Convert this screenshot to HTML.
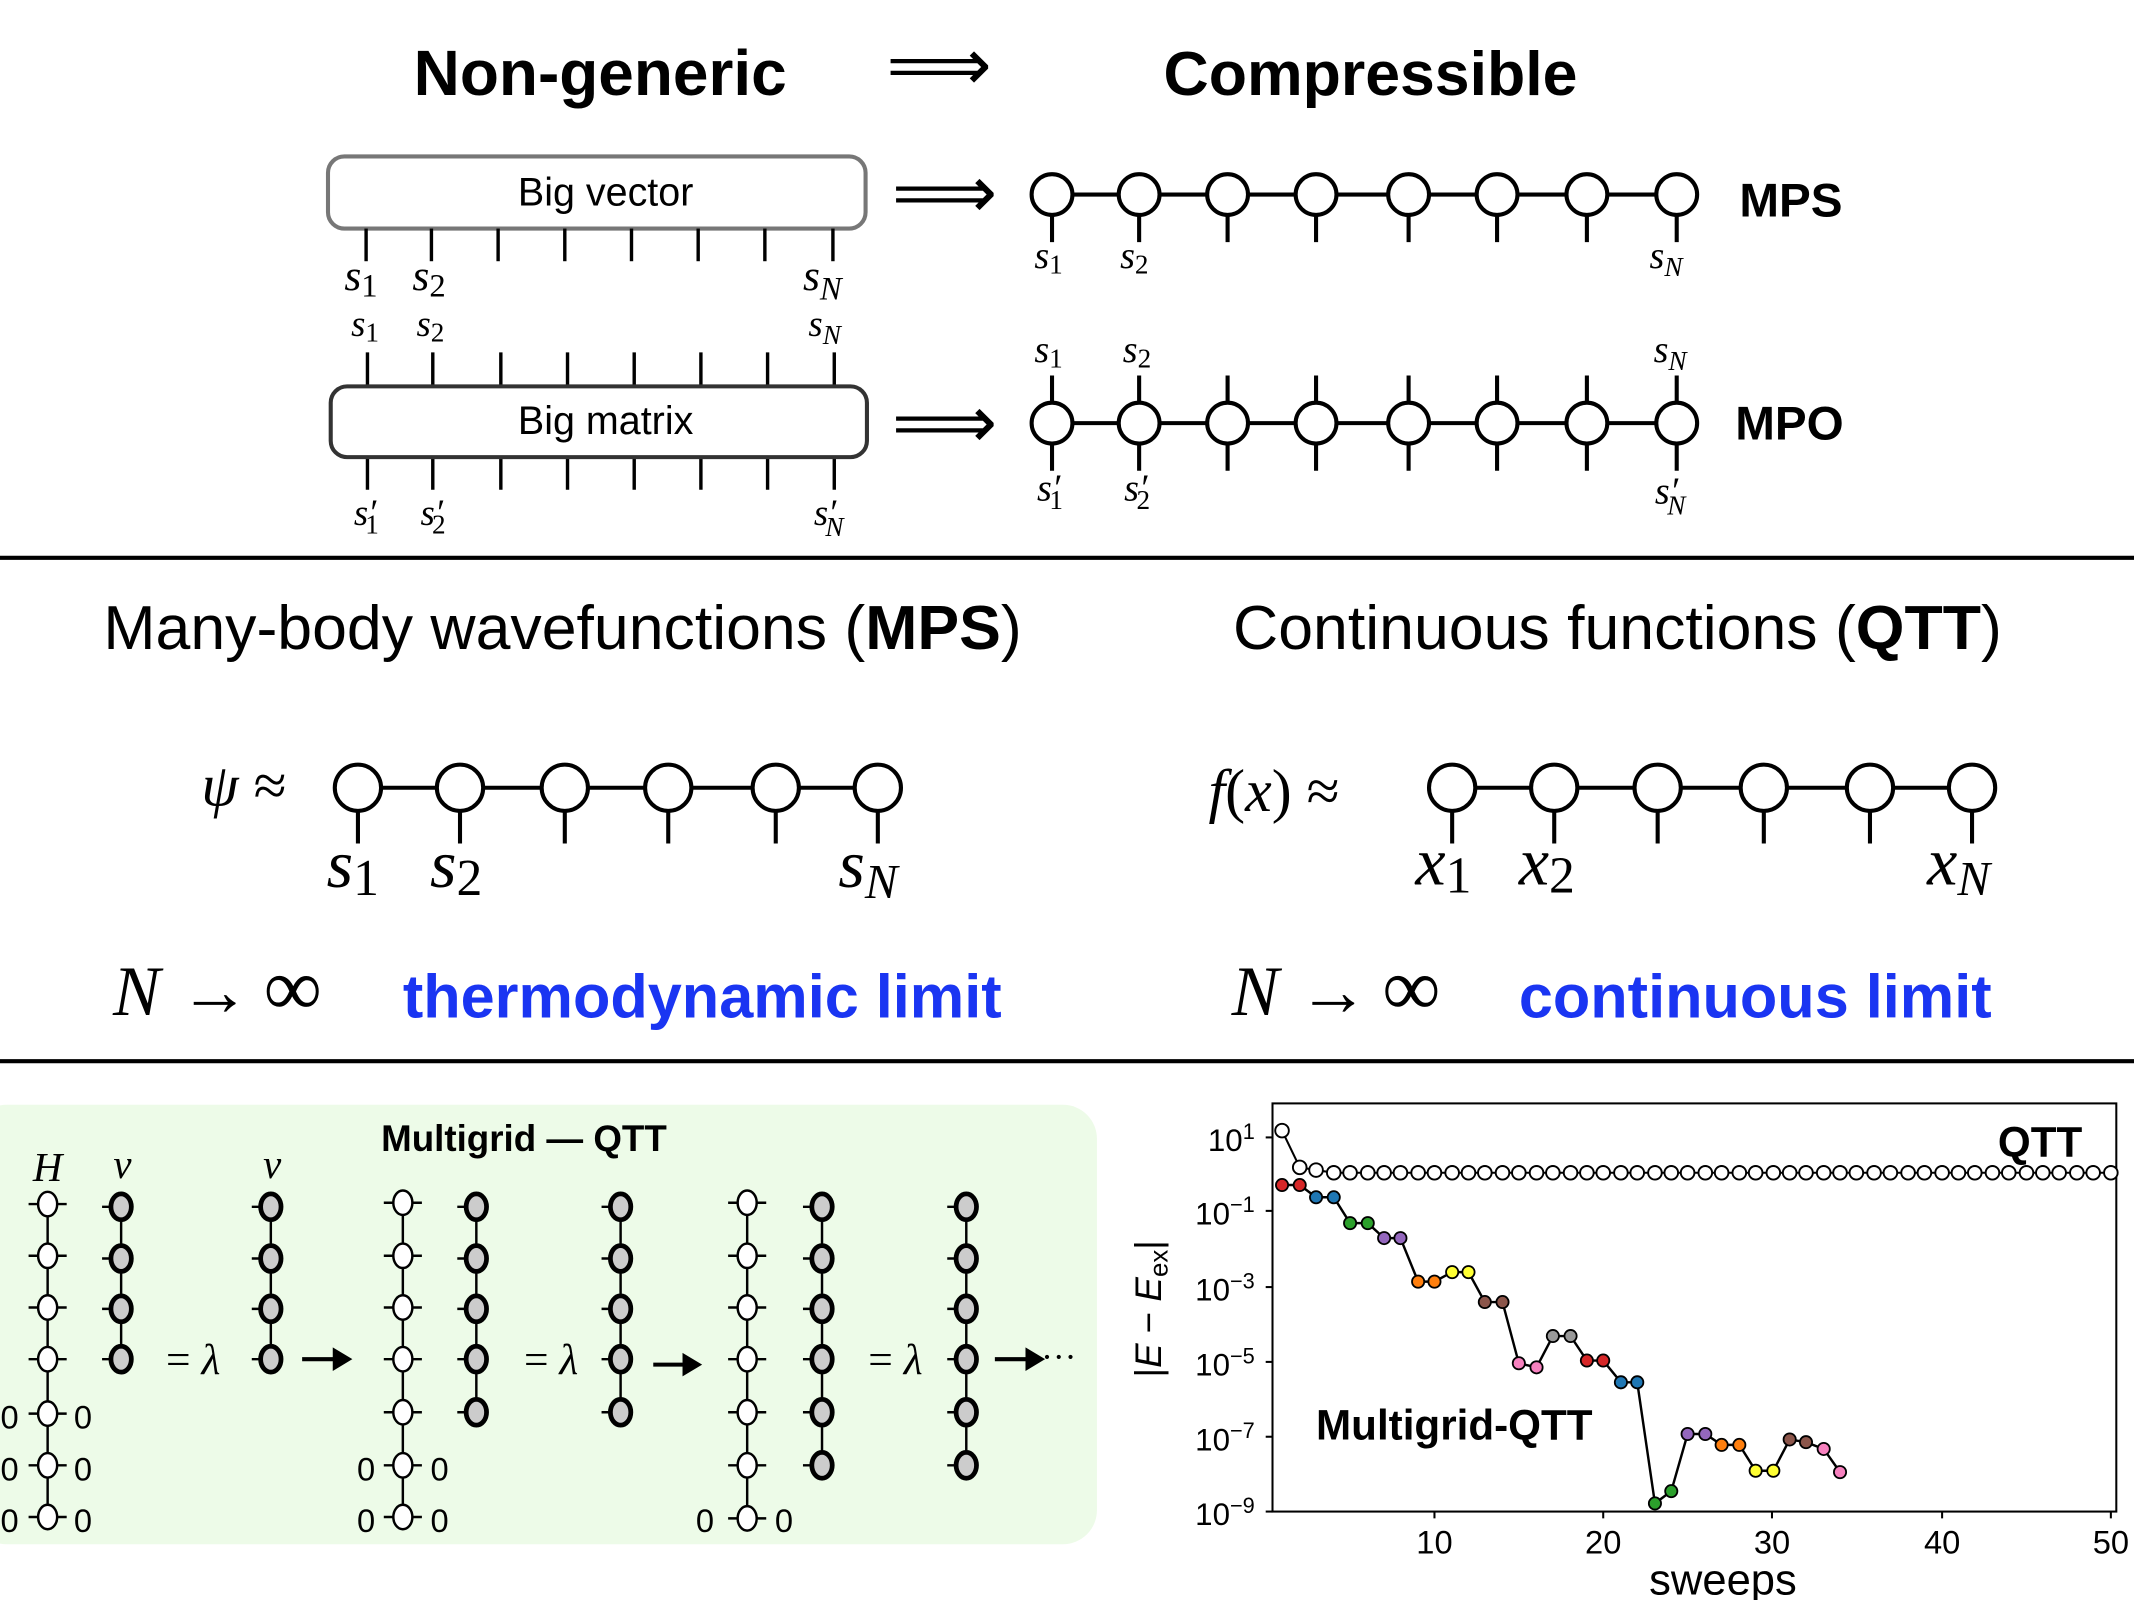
<!DOCTYPE html>
<html><head><meta charset="utf-8"><style>html,body{margin:0;padding:0;background:#fff}svg{display:block}</style></head><body>
<svg width="2134" height="1600" viewBox="0 0 1568 1176" preserveAspectRatio="none" xmlns="http://www.w3.org/2000/svg">
<defs>
<g id="hn"><line x1="-14" y1="0" x2="14" y2="0" stroke="#000" stroke-width="1.8"/><ellipse rx="7" ry="9" fill="#fff" stroke="#000" stroke-width="1.8"/></g>
<g id="vn"><line x1="-14" y1="0" x2="0" y2="0" stroke="#000" stroke-width="1.8"/><ellipse rx="7.5" ry="9.5" fill="#ccc" stroke="#000" stroke-width="3.5"/></g>
<marker id="qm" markerWidth="14" markerHeight="14" refX="7" refY="7" markerUnits="userSpaceOnUse"><circle cx="7" cy="7" r="5" fill="#fff" stroke="#000" stroke-width="1.4"/></marker>
</defs>
<g font-family="Liberation Sans, sans-serif">
<text x="441" y="70" font-size="47" font-weight="bold" text-anchor="middle">Non-generic</text>
<text x="690" y="66" font-size="54" text-anchor="middle" font-family="DejaVu Sans, sans-serif">⟹</text>
<text x="1007" y="70" font-size="46" font-weight="bold" text-anchor="middle">Compressible</text>
<rect x="241" y="115" width="395" height="53" rx="12" fill="#fff" stroke="#777" stroke-width="3"/>
<text x="445" y="151" font-size="29" text-anchor="middle">Big vector</text>
<g stroke="#000" stroke-width="2.5">
<line x1="269" y1="168" x2="269" y2="192"/><line x1="317" y1="168" x2="317" y2="192"/><line x1="366" y1="168" x2="366" y2="192"/><line x1="415" y1="168" x2="415" y2="192"/><line x1="464" y1="168" x2="464" y2="192"/><line x1="513" y1="168" x2="513" y2="192"/><line x1="562" y1="168" x2="562" y2="192"/><line x1="612" y1="168" x2="612" y2="192"/>
</g>
<g font-family="Liberation Serif, serif" font-size="32" font-style="italic">
<text x="253" y="213">s<tspan font-style="normal" font-size="24" dy="5">1</tspan></text>
<text x="303" y="213">s<tspan font-style="normal" font-size="24" dy="5">2</tspan></text>
<text x="590" y="213">s<tspan font-size="24" dy="7">N</tspan></text>
<text x="258" y="247" font-size="27">s<tspan font-style="normal" font-size="20" dy="4">1</tspan></text>
<text x="306" y="247" font-size="27">s<tspan font-style="normal" font-size="20" dy="4">2</tspan></text>
<text x="594" y="247" font-size="27">s<tspan font-size="20" dy="6">N</tspan></text>
<text x="260" y="386" font-size="27">s′<tspan font-style="normal" font-size="20" dx="-8" dy="6">1</tspan></text>
<text x="309" y="386" font-size="27">s′<tspan font-style="normal" font-size="20" dx="-8" dy="6">2</tspan></text>
<text x="598" y="386" font-size="27">s′<tspan font-size="20" dx="-8" dy="8">N</tspan></text>
</g>
<g stroke="#000" stroke-width="2.5">
<line x1="270" y1="259" x2="270" y2="360"/><line x1="318" y1="259" x2="318" y2="360"/><line x1="368" y1="259" x2="368" y2="360"/><line x1="417" y1="259" x2="417" y2="360"/><line x1="466" y1="259" x2="466" y2="360"/><line x1="515" y1="259" x2="515" y2="360"/><line x1="564" y1="259" x2="564" y2="360"/><line x1="613" y1="259" x2="613" y2="360"/>
</g>
<rect x="243" y="284" width="394" height="52" rx="12" fill="#fff" stroke="#333" stroke-width="3"/>
<text x="445" y="319" font-size="29" text-anchor="middle">Big matrix</text>
<text x="694" y="160" font-size="54" text-anchor="middle" font-family="DejaVu Sans, sans-serif">⟹</text>
<text x="694" y="329" font-size="54" text-anchor="middle" font-family="DejaVu Sans, sans-serif">⟹</text>
<g stroke="#000" stroke-width="3" fill="#fff">
<line x1="773" y1="143" x2="1232" y2="143"/>
<line x1="773" y1="143" x2="773" y2="178"/><line x1="837" y1="143" x2="837" y2="178"/><line x1="902" y1="143" x2="902" y2="178"/><line x1="967" y1="143" x2="967" y2="178"/><line x1="1035" y1="143" x2="1035" y2="178"/><line x1="1100" y1="143" x2="1100" y2="178"/><line x1="1166" y1="143" x2="1166" y2="178"/><line x1="1232" y1="143" x2="1232" y2="178"/>
<circle cx="773" cy="143" r="15"/><circle cx="837" cy="143" r="15"/><circle cx="902" cy="143" r="15"/><circle cx="967" cy="143" r="15"/><circle cx="1035" cy="143" r="15"/><circle cx="1100" cy="143" r="15"/><circle cx="1166" cy="143" r="15"/><circle cx="1232" cy="143" r="15"/>
</g>
<text x="1278" y="159" font-size="35" font-weight="bold">MPS</text>
<g stroke="#000" stroke-width="3" fill="#fff">
<line x1="773" y1="311" x2="1232" y2="311"/>
<line x1="773" y1="276" x2="773" y2="346"/><line x1="837" y1="276" x2="837" y2="346"/><line x1="902" y1="276" x2="902" y2="346"/><line x1="967" y1="276" x2="967" y2="346"/><line x1="1035" y1="276" x2="1035" y2="346"/><line x1="1100" y1="276" x2="1100" y2="346"/><line x1="1166" y1="276" x2="1166" y2="346"/><line x1="1232" y1="276" x2="1232" y2="346"/>
<circle cx="773" cy="311" r="15"/><circle cx="837" cy="311" r="15"/><circle cx="902" cy="311" r="15"/><circle cx="967" cy="311" r="15"/><circle cx="1035" cy="311" r="15"/><circle cx="1100" cy="311" r="15"/><circle cx="1166" cy="311" r="15"/><circle cx="1232" cy="311" r="15"/>
</g>
<text x="1275" y="323" font-size="35" font-weight="bold">MPO</text>
<g font-family="Liberation Serif, serif" font-size="28" font-style="italic">
<text x="760" y="197">s<tspan font-style="normal" font-size="20" dy="4">1</tspan></text>
<text x="823" y="197">s<tspan font-style="normal" font-size="20" dy="4">2</tspan></text>
<text x="1212" y="197">s<tspan font-size="20" dy="6">N</tspan></text>
<text x="760" y="266">s<tspan font-style="normal" font-size="20" dy="4">1</tspan></text>
<text x="825" y="266">s<tspan font-style="normal" font-size="20" dy="4">2</tspan></text>
<text x="1215" y="266">s<tspan font-size="20" dy="6">N</tspan></text>
<text x="762" y="368">s′<tspan font-style="normal" font-size="20" dx="-8" dy="6">1</tspan></text>
<text x="826" y="368">s′<tspan font-style="normal" font-size="20" dx="-8" dy="6">2</tspan></text>
<text x="1216" y="370">s′<tspan font-size="20" dx="-8" dy="8">N</tspan></text>
</g>
<line x1="0" y1="410" x2="1568" y2="410" stroke="#000" stroke-width="3"/>
<text x="76" y="477" font-size="46">Many-body wavefunctions (<tspan font-weight="bold">MPS</tspan>)</text>
<text x="906" y="477" font-size="46">Continuous functions (<tspan font-weight="bold">QTT</tspan>)</text>
<g font-family="Liberation Serif, serif" font-style="italic" font-size="44">
<text x="148" y="592">ψ <tspan font-style="normal">≈</tspan></text>
<text x="888" y="596">f<tspan font-style="normal">(</tspan>x<tspan font-style="normal">) ≈</tspan></text>
<text x="240" y="652" font-size="50">s<tspan font-style="normal" font-size="38" dy="6">1</tspan></text>
<text x="316" y="652" font-size="50">s<tspan font-style="normal" font-size="38" dy="6">2</tspan></text>
<text x="616" y="652" font-size="50">s<tspan font-size="36" dy="8">N</tspan></text>
<text x="1040" y="650" font-size="50">x<tspan font-style="normal" font-size="38" dy="6">1</tspan></text>
<text x="1116" y="650" font-size="50">x<tspan font-style="normal" font-size="38" dy="6">2</tspan></text>
<text x="1416" y="650" font-size="50">x<tspan font-size="36" dy="8">N</tspan></text>
<text x="83" y="746" font-size="52">N<tspan font-style="normal" dx="14">→</tspan><tspan font-style="normal" font-size="60" dx="10">∞</tspan></text>
<text x="905" y="746" font-size="52">N<tspan font-style="normal" dx="14">→</tspan><tspan font-style="normal" font-size="60" dx="10">∞</tspan></text>
</g>
<g stroke="#000" stroke-width="3" fill="#fff">
<line x1="263" y1="579" x2="645" y2="579"/>
<line x1="263" y1="579" x2="263" y2="620"/><line x1="338" y1="579" x2="338" y2="620"/><line x1="415" y1="579" x2="415" y2="620"/><line x1="491" y1="579" x2="491" y2="620"/><line x1="570" y1="579" x2="570" y2="620"/><line x1="645" y1="579" x2="645" y2="620"/>
<circle cx="263" cy="579" r="17"/><circle cx="338" cy="579" r="17"/><circle cx="415" cy="579" r="17"/><circle cx="491" cy="579" r="17"/><circle cx="570" cy="579" r="17"/><circle cx="645" cy="579" r="17"/>
<line x1="1067" y1="579" x2="1449" y2="579"/>
<line x1="1067" y1="579" x2="1067" y2="620"/><line x1="1142" y1="579" x2="1142" y2="620"/><line x1="1218" y1="579" x2="1218" y2="620"/><line x1="1296" y1="579" x2="1296" y2="620"/><line x1="1374" y1="579" x2="1374" y2="620"/><line x1="1449" y1="579" x2="1449" y2="620"/>
<circle cx="1067" cy="579" r="17"/><circle cx="1142" cy="579" r="17"/><circle cx="1218" cy="579" r="17"/><circle cx="1296" cy="579" r="17"/><circle cx="1374" cy="579" r="17"/><circle cx="1449" cy="579" r="17"/>
</g>
<text x="296" y="748" font-size="45" font-weight="bold" fill="#1a35f2">thermodynamic limit</text>
<text x="1116" y="748" font-size="45" font-weight="bold" fill="#1a35f2">continuous limit</text>
<line x1="0" y1="780" x2="1568" y2="780" stroke="#000" stroke-width="3"/>
<rect x="-20" y="812" width="826" height="323" rx="25" fill="#edfbe8"/>
<text x="385" y="846" font-size="27" font-weight="bold" text-anchor="middle">Multigrid — QTT</text>
<g font-family="Liberation Serif, serif" font-style="italic" font-size="30">
<text x="35" y="868" text-anchor="middle">H</text><text x="90" y="866" text-anchor="middle">v</text><text x="200" y="866" text-anchor="middle">v</text>
</g>
<g stroke="#000" stroke-width="1.8">
<line x1="35" y1="885" x2="35" y2="1124"/><line x1="89" y1="885" x2="89" y2="999"/><line x1="199" y1="885" x2="199" y2="999"/>
<line x1="296" y1="885" x2="296" y2="1124"/><line x1="350" y1="885" x2="350" y2="1037"/><line x1="456" y1="885" x2="456" y2="1037"/>
<line x1="549" y1="885" x2="549" y2="1124"/><line x1="604" y1="885" x2="604" y2="1076"/><line x1="710" y1="885" x2="710" y2="1076"/>
</g>
<use href="#hn" x="35" y="885"/><use href="#hn" x="35" y="923"/><use href="#hn" x="35" y="961"/><use href="#hn" x="35" y="999"/><use href="#hn" x="35" y="1039"/><use href="#hn" x="35" y="1077"/><use href="#hn" x="35" y="1115"/>
<use href="#vn" x="89" y="887"/><use href="#vn" x="89" y="925"/><use href="#vn" x="89" y="962"/><use href="#vn" x="89" y="999"/>
<use href="#vn" x="199" y="887"/><use href="#vn" x="199" y="925"/><use href="#vn" x="199" y="962"/><use href="#vn" x="199" y="999"/>
<use href="#hn" x="296" y="884"/><use href="#hn" x="296" y="923"/><use href="#hn" x="296" y="961"/><use href="#hn" x="296" y="999"/><use href="#hn" x="296" y="1038"/><use href="#hn" x="296" y="1077"/><use href="#hn" x="296" y="1115"/>
<use href="#vn" x="350" y="887"/><use href="#vn" x="350" y="925"/><use href="#vn" x="350" y="962"/><use href="#vn" x="350" y="999"/><use href="#vn" x="350" y="1038"/>
<use href="#vn" x="456" y="887"/><use href="#vn" x="456" y="925"/><use href="#vn" x="456" y="962"/><use href="#vn" x="456" y="999"/><use href="#vn" x="456" y="1038"/>
<use href="#hn" x="549" y="884"/><use href="#hn" x="549" y="923"/><use href="#hn" x="549" y="961"/><use href="#hn" x="549" y="999"/><use href="#hn" x="549" y="1038"/><use href="#hn" x="549" y="1077"/><use href="#hn" x="549" y="1116"/>
<use href="#vn" x="604" y="887"/><use href="#vn" x="604" y="925"/><use href="#vn" x="604" y="962"/><use href="#vn" x="604" y="999"/><use href="#vn" x="604" y="1038"/><use href="#vn" x="604" y="1077"/>
<use href="#vn" x="710" y="887"/><use href="#vn" x="710" y="925"/><use href="#vn" x="710" y="962"/><use href="#vn" x="710" y="999"/><use href="#vn" x="710" y="1038"/><use href="#vn" x="710" y="1077"/>
<g font-size="24" text-anchor="middle">
<text x="7" y="1050">0</text><text x="61" y="1050">0</text><text x="7" y="1088">0</text><text x="61" y="1088">0</text><text x="7" y="1126">0</text><text x="61" y="1126">0</text>
<text x="269" y="1088">0</text><text x="323" y="1088">0</text><text x="269" y="1126">0</text><text x="323" y="1126">0</text>
<text x="518" y="1126">0</text><text x="576" y="1126">0</text>
</g>
<g font-family="Liberation Serif, serif" font-size="32">
<text x="122" y="1010">= <tspan font-style="italic">λ</tspan></text>
<text x="385" y="1010">= <tspan font-style="italic">λ</tspan></text>
<text x="638" y="1010">= <tspan font-style="italic">λ</tspan></text>
<text x="765" y="1006" font-size="26">···</text>
</g>
<g stroke="#000" stroke-width="3" fill="#000">
<line x1="222" y1="999" x2="248" y2="999"/><polygon points="256,999 246,993 246,1005"/>
<line x1="480" y1="1003" x2="505" y2="1003"/><polygon points="513,1003 503,997 503,1009"/>
<line x1="731" y1="999" x2="757" y2="999"/><polygon points="765,999 755,993 755,1005"/>
</g>
<rect x="935" y="811" width="620" height="300" fill="none" stroke="#000" stroke-width="1.5"/>
<g stroke="#000" stroke-width="1.5">
<line x1="930" y1="836" x2="935" y2="836"/><line x1="930" y1="890" x2="935" y2="890"/><line x1="930" y1="946" x2="935" y2="946"/><line x1="930" y1="1001" x2="935" y2="1001"/><line x1="930" y1="1056" x2="935" y2="1056"/><line x1="930" y1="1111" x2="935" y2="1111"/>
<line x1="1054" y1="1111" x2="1054" y2="1116"/><line x1="1178" y1="1111" x2="1178" y2="1116"/><line x1="1302" y1="1111" x2="1302" y2="1116"/><line x1="1427" y1="1111" x2="1427" y2="1116"/><line x1="1551" y1="1111" x2="1551" y2="1116"/>
</g>
<g font-size="23" text-anchor="end">
<text x="922" y="846">10<tspan font-size="16" dy="-9">1</tspan></text>
<text x="922" y="900">10<tspan font-size="16" dy="-9">−1</tspan></text>
<text x="922" y="956">10<tspan font-size="16" dy="-9">−3</tspan></text>
<text x="922" y="1011">10<tspan font-size="16" dy="-9">−5</tspan></text>
<text x="922" y="1066">10<tspan font-size="16" dy="-9">−7</tspan></text>
<text x="922" y="1121">10<tspan font-size="16" dy="-9">−9</tspan></text>
</g>
<g font-size="24" text-anchor="middle">
<text x="1054" y="1142">10</text><text x="1178" y="1142">20</text><text x="1302" y="1142">30</text><text x="1427" y="1142">40</text><text x="1551" y="1142">50</text>
</g>
<text x="1266" y="1172" font-size="32" text-anchor="middle">sweeps</text>
<text transform="translate(853,962) rotate(-90)" font-size="27" text-anchor="middle">|<tspan font-style="italic">E</tspan> − <tspan font-style="italic">E</tspan><tspan font-size="19" dy="5">ex</tspan><tspan dy="-5">|</tspan></text>
<text x="1530" y="850" font-size="31" font-weight="bold" text-anchor="end">QTT</text>
<text x="967" y="1058" font-size="31" font-weight="bold">Multigrid-QTT</text>
<polyline fill="none" stroke="#000" stroke-width="1.5" marker-start="url(#qm)" marker-mid="url(#qm)" marker-end="url(#qm)" points="942,831 955,858 967,860 980,862 992,862 1005,862 1017,862 1029,862 1042,862 1054,862 1067,862 1079,862 1091,862 1104,862 1116,862 1129,862 1141,862 1154,862 1166,862 1178,862 1191,862 1203,862 1216,862 1228,862 1240,862 1253,862 1265,862 1278,862 1290,862 1303,862 1315,862 1327,862 1340,862 1352,862 1364,862 1377,862 1389,862 1402,862 1414,862 1427,862 1439,862 1451,862 1464,862 1476,862 1489,862 1501,862 1513,862 1526,862 1538,862 1551,862"/>
<polyline fill="none" stroke="#000" stroke-width="1.8" points="942,871 955,871 967,880 980,880 992,899 1005,899 1017,910 1029,910 1042,942 1054,942 1067,935 1079,935 1091,957 1104,957 1116,1002 1129,1005 1141,982 1154,982 1166,1000 1178,1000 1191,1016 1203,1016 1216,1105 1228,1096 1240,1054 1253,1054 1265,1062 1278,1062 1290,1081 1303,1081 1315,1058 1327,1060 1340,1065 1352,1082"/>
<g stroke="#000" stroke-width="1.3">
<circle cx="942" cy="871" r="4.5" fill="#d62728"/><circle cx="955" cy="871" r="4.5" fill="#d62728"/>
<circle cx="967" cy="880" r="4.5" fill="#1f77b4"/><circle cx="980" cy="880" r="4.5" fill="#1f77b4"/>
<circle cx="992" cy="899" r="4.5" fill="#2ca02c"/><circle cx="1005" cy="899" r="4.5" fill="#2ca02c"/>
<circle cx="1017" cy="910" r="4.5" fill="#9467bd"/><circle cx="1029" cy="910" r="4.5" fill="#9467bd"/>
<circle cx="1042" cy="942" r="4.5" fill="#ff7f0e"/><circle cx="1054" cy="942" r="4.5" fill="#ff7f0e"/>
<circle cx="1067" cy="935" r="4.5" fill="#ffff33"/><circle cx="1079" cy="935" r="4.5" fill="#ffff33"/>
<circle cx="1091" cy="957" r="4.5" fill="#8c564b"/><circle cx="1104" cy="957" r="4.5" fill="#8c564b"/>
<circle cx="1116" cy="1002" r="4.5" fill="#f781bf"/><circle cx="1129" cy="1005" r="4.5" fill="#f781bf"/>
<circle cx="1141" cy="982" r="4.5" fill="#999"/><circle cx="1154" cy="982" r="4.5" fill="#999"/>
<circle cx="1166" cy="1000" r="4.5" fill="#d62728"/><circle cx="1178" cy="1000" r="4.5" fill="#d62728"/>
<circle cx="1191" cy="1016" r="4.5" fill="#1f77b4"/><circle cx="1203" cy="1016" r="4.5" fill="#1f77b4"/>
<circle cx="1216" cy="1105" r="4.5" fill="#2ca02c"/><circle cx="1228" cy="1096" r="4.5" fill="#2ca02c"/>
<circle cx="1240" cy="1054" r="4.5" fill="#9467bd"/><circle cx="1253" cy="1054" r="4.5" fill="#9467bd"/>
<circle cx="1265" cy="1062" r="4.5" fill="#ff7f0e"/><circle cx="1278" cy="1062" r="4.5" fill="#ff7f0e"/>
<circle cx="1290" cy="1081" r="4.5" fill="#ffff33"/><circle cx="1303" cy="1081" r="4.5" fill="#ffff33"/>
<circle cx="1315" cy="1058" r="4.5" fill="#8c564b"/><circle cx="1327" cy="1060" r="4.5" fill="#8c564b"/>
<circle cx="1340" cy="1065" r="4.5" fill="#f781bf"/><circle cx="1352" cy="1082" r="4.5" fill="#f781bf"/>
</g>
</g>
</svg>
</body></html>
